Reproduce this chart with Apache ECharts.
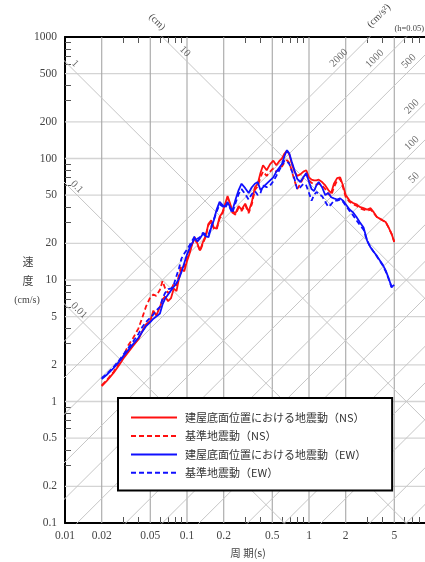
<!DOCTYPE html>
<html><head><meta charset="utf-8">
<script src="https://cdn.jsdelivr.net/npm/echarts@6/dist/echarts.min.js"></script>
<style>html,body{margin:0;padding:0;background:#fff}#c{width:425px;height:562px}</style>
</head><body><div id="c"></div>
<script>
// Pseudo-velocity response spectra (h = 0.05), tripartite log-log chart.
const periods = [0.02,0.022,0.025,0.028,0.03,0.033,0.036,0.04,0.043,0.046,0.05,0.053,0.056,0.06,0.063,0.066,0.07,0.074,0.078,0.082,0.086,0.09,0.095,0.1,0.105,0.11,0.116,0.122,0.128,0.135,0.142,0.15,0.158,0.166,0.175,0.185,0.195,0.205,0.215,0.225,0.235,0.25,0.265,0.28,0.3,0.32,0.34,0.36,0.38,0.4,0.42,0.45,0.48,0.51,0.54,0.57,0.6,0.63,0.66,0.69,0.72,0.76,0.8,0.85,0.9,0.95,1.0,1.05,1.1,1.15,1.2,1.28,1.36,1.44,1.52,1.6,1.7,1.8,1.9,2.0,2.15,2.3,2.45,2.6,2.8,3.0,3.2,3.4,3.6,3.8,4.0,4.25,4.5,4.75,5.0];
const nsBase = [1.34,1.48,1.72,2.02,2.25,2.55,2.85,3.25,3.8,4.3,4.6,5.6,5.1,6.0,6.9,7.3,6.7,7.1,8.5,8.1,10.3,12.3,11.8,14.3,16.5,19.5,22.5,19.8,17.5,20.5,23,29,31,27,26.5,33,36,42,49,43,37,35.5,40.5,38,42.5,36.5,44,58,62,76,88,80,90,96,88,95,100,110,116,108,92,78,72,74,78,80,70,67,66,66,67,64,60,55,52,62,69,70,60,50,45,43,42,40,39,38,39,36,33,32,31,30,27,24,20.6];
const nsRef = [1.36,1.5,1.75,2.08,2.35,2.9,3.3,4.0,4.9,6.0,7.2,7.6,7.4,8.3,9.8,8.6,7.8,8.2,9.4,9.0,11,13.2,12.8,15.2,17,19.8,22,19.5,17.3,20,22.5,28.5,30,26.5,26,32,35,41,47.5,42,36,34.5,39.5,37,41.5,35.5,42,55,59,70,78,72,78,83,78,82,86,93,97,92,80,66,56,62,70,74,66,63,62,61,62,60,56,51,49,58,66,68,58,48,44,42,41,39,38,37,38,35.5,33,32,31,30,27,24,20.6];
const ewBase = [1.53,1.66,1.88,2.15,2.35,2.65,2.95,3.35,3.75,4.15,4.5,4.8,5.0,5.3,6.3,7.0,7.6,8.2,8.8,9.4,10.3,11.6,13.8,16.2,18.3,20,22,20.8,22,24,23,22.5,27,31,38,44,41.5,40,44,40,37,46,55,62,57,52,58,62,64,55,58,62,66,70,78,84,90,105,117,110,95,80,68,64,70,76,64,56,54,60,64,58,50,52,48,47,46,47,45,42,38,36,33,30,27,21,18.5,17,15.8,14.5,13.5,12,10.3,8.8,9.1];
const ewRef = [1.56,1.69,1.92,2.2,2.42,2.75,3.1,3.6,4.1,4.5,4.9,5.2,5.6,6.0,7.0,7.8,8.4,8.5,9.2,10.8,12.5,15,16.5,17.8,19.3,21,23,21.8,22.6,24.5,23.8,23.5,27.5,31.5,36.5,42,40.5,39,42.5,39,35.5,43,51,56,51,46,51,54,50,52,60,58,60,65,72,80,88,96,95,90,80,68,56,58,62,60,52,45,50,53,51,49,44,40,42,45,45,46,44,41,37,34,31,28.5,26,21,18.5,17,15.6,14.4,13.3,11.8,10.2,8.7,9.0];

const seriesNames = ['建屋底面位置における地震動（NS）','基準地震動（NS）','建屋底面位置における地震動（EW）','基準地震動（EW）'];

// Axis ticks, labels and grid values
const xLabelValues = [0.01,0.02,0.05,0.1,0.2,0.5,1,2,5];
const yLabelValues = [0.1,0.2,0.5,1,2,5,10,20,50,100,200,500,1000];
const xGridValues = [0.02,0.05,0.1,0.2,0.5,1,2,5];
const yGridValues = [0.2,0.5,1,2,5,10,20,50,100,200,500];
const xMinorTicks = [0.03,0.04,0.06,0.07,0.08,0.09,0.3,0.4,0.6,0.7,0.8,0.9,3,4,6,7,8,9];
const yMinorTicks = [0.3,0.4,0.6,0.7,0.8,0.9,3,4,6,7,8,9,30,40,60,70,80,90,300,400,600,700,800,900];

// Tripartite reference lines: displacement (cm) and acceleration (cm/s²)
const dispLevels = [0.01,0.1,1,10];
const accLevels = [0.1,0.2,0.5,1,2,5,10,20,50,100,200,500,1000,2000];
const dispLabelLevels = [1,10,0.1,0.01];
const accLabelLevels = [2000,1000,500,200,100,50];

const TWO_PI = 2 * Math.PI;
const T_LO = 1e-3, T_HI = 1e2;
const serif = 'Liberation Serif';
const txt = '#444';

// where along each reference line its label sits (period, s)
const dispLabelAt = {1: 0.0121, 10: 0.0961, 0.1: 0.0125, 0.01: 0.013};
const accLabelAt = {2000: 1.76, 1000: 3.46, 500: 6.6, 200: 6.98, 100: 6.98, 50: 7.25};

const series = [];
const guide = (data, color, width) => ({
  type: 'line', data, symbol: 'none', silent: true, animation: false, z: 1,
  lineStyle: {color, width}, emphasis: {disabled: true}
});
yGridValues.forEach(v => series.push(guide([[0.01, v], [10, v]], '#d4d4d4', 1.3)));
xGridValues.forEach(v => series.push(guide([[v, 0.1], [v, 1000]], '#a6a6a6', 1.1)));
dispLevels.forEach(d => series.push(guide([[T_LO, TWO_PI * d / T_LO], [T_HI, TWO_PI * d / T_HI]], '#c6c6c6', 1)));
accLevels.forEach(a => series.push(guide([[T_LO, a * T_LO / TWO_PI], [T_HI, a * T_HI / TWO_PI]], '#c6c6c6', 1)));

// labels on the reference lines
const lineLabels = (rotate, data) => ({
  type: 'scatter', silent: true, animation: false, z: 3, symbolSize: 1,
  itemStyle: {color: 'rgba(0,0,0,0)'},
  label: {show: true, position: 'inside', formatter: '{b}', rotate, fontFamily: serif, fontSize: 10.5, color: txt},
  emphasis: {disabled: true},
  data
});
series.push(lineLabels(-45, dispLabelLevels.map(d => ({name: String(d), value: [dispLabelAt[d], TWO_PI * d / dispLabelAt[d] * 1.16]}))));
series.push(lineLabels(45, accLabelLevels.map(a => ({name: String(a), value: [accLabelAt[a], a * accLabelAt[a] / TWO_PI * 1.2]}))));

const spectra = [nsRef, nsBase, ewRef, ewBase];
const specNames = [seriesNames[1], seriesNames[0], seriesNames[3], seriesNames[2]];
const specColor = ['#ff1010', '#ff1010', '#1010ff', '#1010ff'];
const specDash = [[5, 3], 'solid', [5, 3], 'solid'];
spectra.forEach((vals, k) => series.push({
  name: specNames[k], type: 'line', symbol: 'none', animation: false, z: 5 + k,
  data: periods.map((t, i) => [t, vals[i]]),
  lineStyle: {color: specColor[k], width: 1.8, type: specDash[k]},
  itemStyle: {color: specColor[k]},
  emphasis: {disabled: true}
}));

const axisLineStyle = {show: true, lineStyle: {color: '#000', width: 2}};
const option = {
  backgroundColor: '#fff',
  animation: false,
  grid: {left: 65, top: 37, width: 366, height: 486, containLabel: false, outerBoundsMode: 'none'},
  xAxis: [{
    type: 'log', logBase: 10, min: 0.01, max: 10, position: 'bottom',
    axisLine: axisLineStyle,
    axisTick: {show: true, inside: true, length: 6, customValues: xMinorTicks, lineStyle: {color: '#555'}},
    axisLabel: {customValues: xLabelValues, margin: 7, fontFamily: serif, fontSize: 11.5, color: txt, formatter: v => String(+v.toPrecision(3))},
    splitLine: {show: false}, minorTick: {show: false}
  }, {
    type: 'log', logBase: 10, min: 0.01, max: 10, position: 'top',
    axisLine: axisLineStyle,
    axisTick: {show: true, inside: true, length: 6, customValues: xMinorTicks, lineStyle: {color: '#555'}},
    axisLabel: {show: false}, splitLine: {show: false}
  }],
  yAxis: [{
    type: 'log', logBase: 10, min: 0.1, max: 1000, position: 'left',
    axisLine: axisLineStyle,
    axisTick: {show: true, inside: true, length: 6, customValues: yMinorTicks, lineStyle: {color: '#555'}},
    axisLabel: {customValues: yLabelValues, margin: 8, fontFamily: serif, fontSize: 11.5, color: txt, formatter: v => String(+v.toPrecision(3))},
    splitLine: {show: false}
  }],
  legend: {
    data: seriesNames, orient: 'vertical', left: 118, top: 398,
    padding: [14, 26, 12, 12], itemGap: 7.2, itemWidth: 46, itemHeight: 14,
    borderColor: '#000', borderWidth: 2, backgroundColor: '#fff', borderRadius: 0,
    selectedMode: false, z: 10,
    itemStyle: {opacity: 0},
    textStyle: {fontFamily: 'Noto Sans CJK JP', fontSize: 11, color: '#333', padding: [0, 0, 0, 3]}
  },
  graphic: [
    {type: 'text', x: 157, y: 22, rotation: -Math.PI / 4, style: {text: '(cm)', fontFamily: serif, fontSize: 10, fill: txt, align: 'center', verticalAlign: 'middle'}},
    {type: 'text', x: 379, y: 16, rotation: Math.PI / 4, style: {text: '(cm/s²)', fontFamily: serif, fontSize: 10, fill: txt, align: 'center', verticalAlign: 'middle'}},
    {type: 'text', x: 424, y: 29, style: {text: '(h=0.05)', fontFamily: serif, fontSize: 8.5, fill: txt, align: 'right', verticalAlign: 'middle'}},
    {type: 'text', x: 28, y: 262, style: {text: '速', fontFamily: 'Noto Sans CJK JP', fontSize: 11, fill: txt, align: 'center', verticalAlign: 'middle'}},
    {type: 'text', x: 28, y: 281, style: {text: '度', fontFamily: 'Noto Sans CJK JP', fontSize: 11, fill: txt, align: 'center', verticalAlign: 'middle'}},
    {type: 'text', x: 27, y: 300, style: {text: '(cm/s)', fontFamily: serif, fontSize: 10, fill: txt, align: 'center', verticalAlign: 'middle'}},
    {type: 'text', x: 248, y: 553, style: {text: '周 期(s)', fontFamily: 'Noto Sans CJK JP', fontSize: 10.5, fill: txt, align: 'center', verticalAlign: 'middle'}}
  ],
  series
};
const chart = echarts.init(document.getElementById('c'), null, {renderer: 'canvas'});
chart.setOption(option);
</script>
</body></html>
